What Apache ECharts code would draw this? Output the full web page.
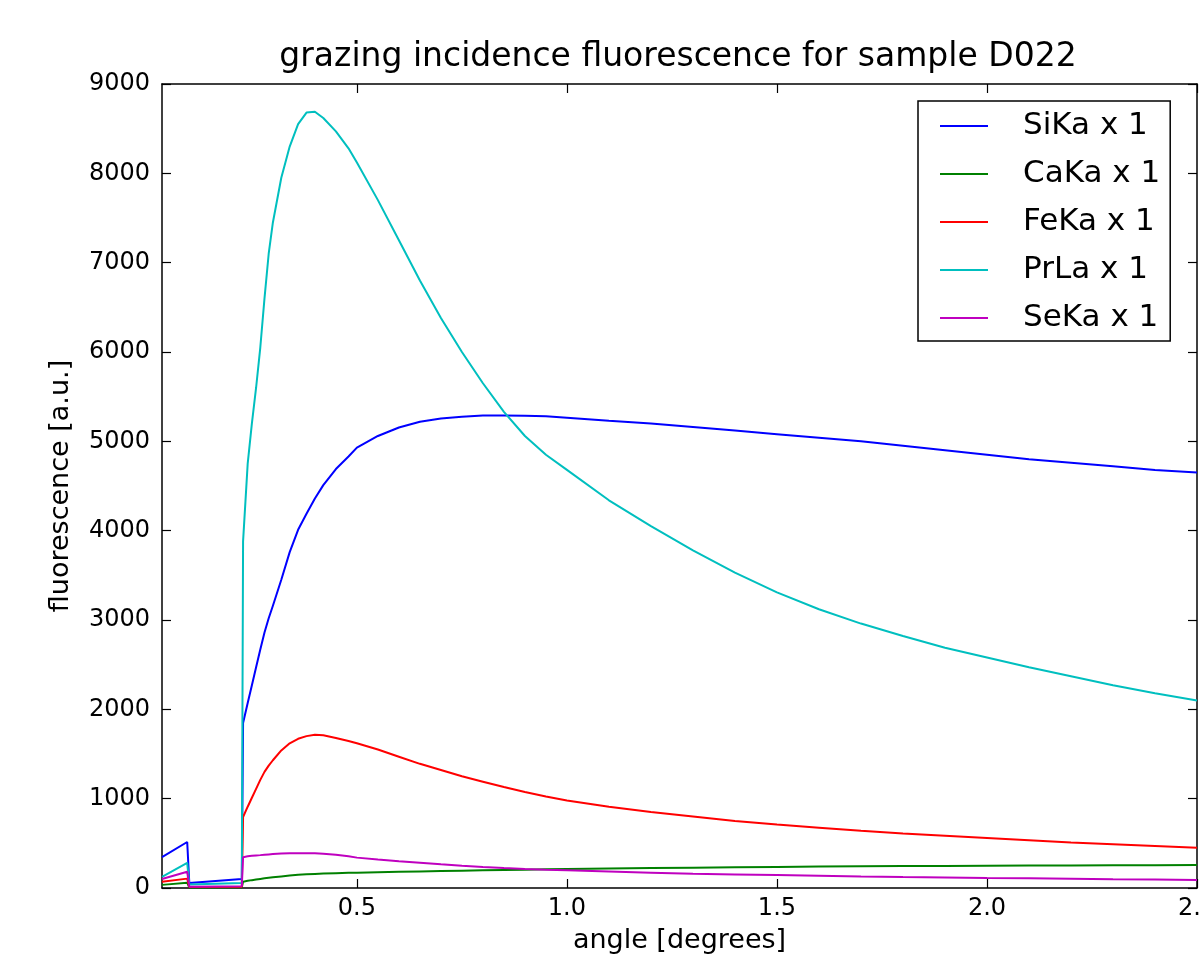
<!DOCTYPE html>
<html>
<head>
<meta charset="utf-8">
<script src="https://cdn.jsdelivr.net/npm/echarts@6/dist/echarts.min.js"></script>
<style>
  html, body { margin: 0; padding: 0; background: #fff; }
  #chart { width: 1199px; height: 959px; }
</style>
</head>
<body>
<div id="chart"></div>
<script>
// angle [degrees], shared by all five curves
const angle = [0.036, 0.096, 0.101, 0.226, 0.229, 0.24, 0.25, 0.26, 0.27, 0.28, 0.29, 0.30,
  0.32, 0.34, 0.36, 0.38, 0.40, 0.42, 0.45, 0.48, 0.50, 0.55, 0.60, 0.65, 0.70, 0.75,
  0.80, 0.85, 0.90, 0.95, 1.00, 1.10, 1.20, 1.30, 1.40, 1.50, 1.60, 1.70, 1.80, 1.90,
  2.00, 2.10, 2.20, 2.30, 2.40, 2.50];

const siKa = [345, 515, 56, 100, 1846, 2070, 2270, 2470, 2670, 2860, 3020, 3160,
  3450, 3760, 4010, 4190, 4360, 4510, 4690, 4830, 4930, 5060, 5155, 5220, 5255, 5275,
  5290, 5290, 5285, 5280, 5265, 5230, 5200, 5160, 5120, 5080, 5040, 5000, 4950, 4900,
  4850, 4800, 4760, 4720, 4680, 4650];

const caKa = [35, 60, 5, 8, 70, 80, 88, 95, 102, 108, 114, 120,
  130, 140, 148, 153, 158, 162, 166, 170, 172, 177, 182, 186, 190, 194,
  198, 202, 205, 209, 212, 218, 224, 228, 232, 236, 240, 243, 245, 247,
  249, 251, 253, 255, 256, 257];

const feKa = [70, 105, 10, 15, 795, 910, 1010, 1110, 1210, 1300, 1370, 1430,
  1540, 1620, 1670, 1700, 1715, 1710, 1680, 1645, 1620, 1550, 1470, 1390, 1320, 1250,
  1190, 1130, 1075, 1025, 980, 910, 850, 800, 750, 710, 675, 640, 610, 585,
  560, 535, 510, 490, 470, 450];

const prLa = [125, 282, 40, 55, 3880, 4750, 5200, 5600, 6050, 6600, 7100, 7450,
  7950, 8300, 8550, 8680, 8690, 8620, 8470, 8280, 8120, 7700, 7250, 6800, 6380, 6000,
  5650, 5330, 5060, 4850, 4680, 4340, 4050, 3780, 3530, 3310, 3120, 2960, 2820, 2690,
  2580, 2470, 2370, 2270, 2180, 2100];

const seKa = [100, 182, 15, 20, 345, 355, 360, 365, 368, 372, 376, 380,
  385, 388, 390, 390, 388, 383, 372, 355, 340, 318, 300, 283, 265, 248,
  235, 223, 212, 203, 198, 185, 172, 160, 152, 145, 138, 130, 123, 117,
  112, 108, 103, 98, 94, 90];

const seriesNames = ['SiKa x 1', 'CaKa x 1', 'FeKa x 1', 'PrLa x 1', 'SeKa x 1'];
const seriesColors = ['#0000ff', '#008000', '#ff0000', '#00bfbf', '#bf00bf'];
const xTicks = [0.5, 1.0, 1.5, 2.0, 2.5];

const FONT = 'DejaVu Sans';
const chart = echarts.init(document.getElementById('chart'), null, { renderer: 'canvas' });

const pairs = ys => angle.map((a, i) => [a, ys[i]]);
const allValues = [siKa, caKa, feKa, prLa, seKa];

const axisLine = { show: true, onZero: false, lineStyle: { color: '#000', width: 1.5 } };
const tickStyle = { color: '#000', width: 1.2 };

const option = {
  backgroundColor: '#fff',
  animation: false,
  title: {
    text: 'grazing incidence fluorescence for sample D022',
    left: 673,
    textAlign: 'center',
    top: 36,
    textStyle: { fontFamily: FONT, fontSize: 33, fontWeight: 'normal', color: '#000' }
  },
  legend: {
    orient: 'vertical',
    left: 918,
    top: 101,
    padding: [8, 10, 6, 22],
    borderColor: '#000',
    borderWidth: 1.5,
    backgroundColor: '#fff',
    itemWidth: 48,
    itemHeight: 2,
    itemGap: 14,
    icon: 'rect',
    data: seriesNames,
    textStyle: { fontFamily: FONT, fontSize: 31, lineHeight: 34, color: '#000', padding: [0, 0, 0, 30] }
  },
  grid: { left: 162, right: 2, top: 84, bottom: 71, outerBoundsMode: 'none' },
  xAxis: [
    {
      type: 'value',
      min: 0.036,
      max: 2.5,
      position: 'bottom',
      name: 'angle [degrees]',
      nameLocation: 'middle',
      nameGap: 39,
      nameTextStyle: { fontFamily: FONT, fontSize: 27, color: '#000' },
      axisLine: axisLine,
      axisTick: { show: true, inside: true, length: 9, lineStyle: tickStyle, customValues: xTicks },
      axisLabel: {
        show: true, margin: 9, fontFamily: FONT, fontSize: 24, color: '#000',
        customValues: xTicks, formatter: v => v.toFixed(1)
      },
      splitLine: { show: false }
    },
    {
      type: 'value',
      min: 0.036,
      max: 2.5,
      position: 'top',
      axisLine: axisLine,
      axisTick: { show: true, inside: true, length: 9, lineStyle: tickStyle, customValues: xTicks },
      axisLabel: { show: false },
      splitLine: { show: false }
    }
  ],
  yAxis: [
    {
      type: 'value',
      min: 0,
      max: 9000,
      interval: 1000,
      position: 'left',
      name: 'fluorescence [a.u.]',
      nameLocation: 'middle',
      nameGap: 88,
      nameTextStyle: { fontFamily: FONT, fontSize: 27, color: '#000' },
      axisLine: axisLine,
      axisTick: { show: true, inside: true, length: 9, lineStyle: tickStyle },
      axisLabel: { margin: 12, fontFamily: FONT, fontSize: 24, color: '#000', formatter: v => String(v) },
      splitLine: { show: false }
    },
    {
      type: 'value',
      min: 0,
      max: 9000,
      interval: 1000,
      position: 'right',
      axisLine: axisLine,
      axisTick: { show: true, inside: true, length: 9, lineStyle: tickStyle },
      axisLabel: { show: false },
      splitLine: { show: false }
    }
  ],
  series: seriesNames.map((name, i) => ({
    name: name,
    type: 'line',
    xAxisIndex: 0,
    yAxisIndex: 0,
    data: pairs(allValues[i]),
    showSymbol: false,
    symbol: 'none',
    color: seriesColors[i],
    lineStyle: { color: seriesColors[i], width: 2 },
    z: 2 + i
  }))
};

chart.setOption(option);
</script>
</body>
</html>
